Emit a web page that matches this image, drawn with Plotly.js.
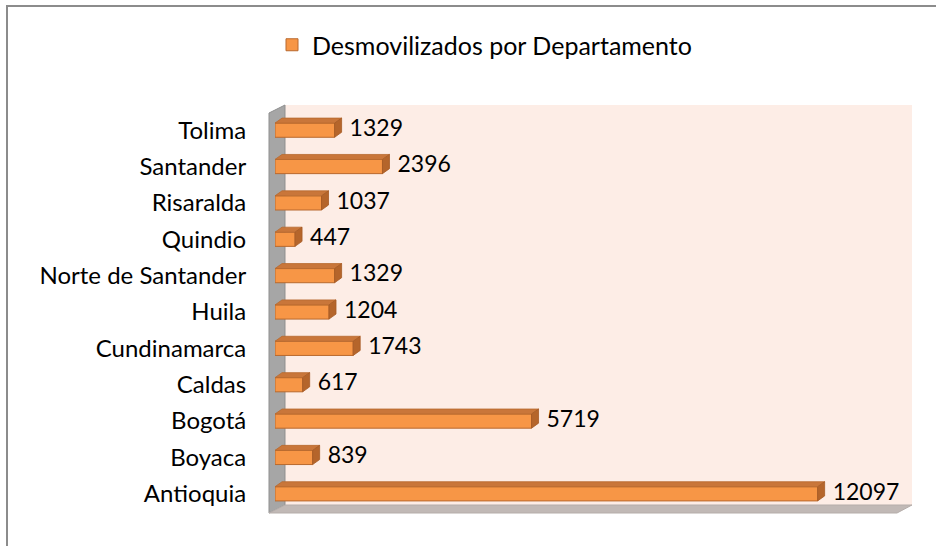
<!DOCTYPE html>
<html>
<head>
<meta charset="utf-8">
<script src="https://cdn.plot.ly/plotly-3.0.1.min.js"></script>
<style>
html,body{margin:0;padding:0;background:#fff;overflow:hidden;}
#wrap{position:relative;width:943px;height:546px;overflow:hidden;}
#chart{position:absolute;left:0;top:0;width:943px;height:546px;}
#frame{position:absolute;left:6px;top:5px;width:928px;height:560px;border-left:2px solid #8C8C8C;border-top:2px solid #8C8C8C;pointer-events:none;}
</style>
</head>
<body>
<div id="wrap"><div id="chart"></div><div id="frame"></div></div>
<script>
const categories = ['Antioquia','Boyaca','Bogotá','Caldas','Cundinamarca','Huila','Norte de Santander','Quindio','Risaralda','Santander','Tolima'];
const values = [12097, 839, 5719, 617, 1743, 1204, 1329, 447, 1037, 2396, 1329];
const seriesName = 'Desmovilizados por Departamento';

const W = 943, H = 546;
const M = {l: 275, r: 40, t: 112, b: 34};
const pw = W - M.l - M.r, ph = H - M.t - M.b;
const XMAX = 14000;
const idx = categories.map((c, i) => i);

const dxu = 7 * XMAX / pw;
const dyu = 5 * 11 / ph;
const hw = 0.195;
const topX = [], topY = [], rightX = [], rightY = [];
values.forEach((v, i) => {
  topX.push(0, v, v + dxu, dxu, 0, null);
  topY.push(i + hw, i + hw, i + hw + dyu, i + hw + dyu, i + hw, null);
  rightX.push(v, v, v + dxu, v + dxu, v, null);
  rightY.push(i - hw, i + hw, i + hw + dyu, i - hw + dyu, i - hw, null);
});

function px(x) { return (x - M.l) / pw; }
function py(y) { return 1 - (y - M.t) / ph; }
function pts2path(pts, close) {
  return 'M ' + pts.map(p => px(p[0]).toFixed(5) + ',' + py(p[1]).toFixed(5)).join(' L ') + (close ? ' Z' : '');
}
function rect(x0, y0, x1, y1, fill, lc, lw) {
  return {type: 'rect', layer: 'below', xref: 'paper', yref: 'paper',
          x0: px(x0), x1: px(x1), y0: py(y1), y1: py(y0),
          fillcolor: fill, line: {color: lc, width: lw}};
}

const font = 'Lato, "Open Sans", sans-serif';

const traces = [
  {
    type: 'bar', orientation: 'h', name: seriesName,
    x: values, y: idx, width: 2 * hw,
    marker: {color: '#F79646', line: {color: '#B8692E', width: 1}},
    hoverinfo: 'skip', showlegend: true
  },
  {
    type: 'scatter', mode: 'lines', x: topX, y: topY, fill: 'toself',
    fillcolor: '#C9763A', line: {color: '#B8692E', width: 0.8},
    hoverinfo: 'skip', showlegend: false
  },
  {
    type: 'scatter', mode: 'lines', x: rightX, y: rightY, fill: 'toself',
    fillcolor: '#B5652B', line: {color: '#A65B25', width: 0.8},
    hoverinfo: 'skip', showlegend: false
  },
  {
    type: 'scatter', mode: 'text', x: values.map(v => v + 15 * XMAX / pw), y: idx,
    text: values.map(v => String(v)), textposition: 'middle right',
    textfont: {family: font, size: 23, color: '#000'},
    cliponaxis: false, hoverinfo: 'skip', showlegend: false
  }
];

const shapes = [
  rect(285, 105, 912, 505, '#FDEDE6', 'rgba(0,0,0,0)', 0),
  {type: 'path', layer: 'below', xref: 'paper', yref: 'paper',
   path: pts2path([[269,113],[285,105],[285,505],[269,513]], true),
   fillcolor: '#A6A6A6', line: {color: '#8F8F8F', width: 1}},
  {type: 'path', layer: 'below', xref: 'paper', yref: 'paper',
   path: pts2path([[269,513],[285,505],[912,505],[897,513]], true),
   fillcolor: '#C1B9B6', line: {color: '#B5ADAA', width: 1}}
];

const layout = {
  width: W, height: H,
  margin: M,
  paper_bgcolor: '#FFFFFF', plot_bgcolor: 'rgba(0,0,0,0)',
  font: {family: font, size: 24, color: '#000'},
  showlegend: true,
  legend: {orientation: 'h', x: px(272), xanchor: 'left', y: py(45), yanchor: 'middle',
           font: {family: font, size: 25, color: '#000'}, bgcolor: 'rgba(0,0,0,0)'},
  xaxis: {range: [0, XMAX], visible: false, fixedrange: true},
  yaxis: {range: [-0.5, 10.5], tickvals: idx, ticktext: categories,
          showgrid: false, zeroline: false, showline: false,
          ticks: 'outside', ticklen: 23, tickcolor: 'rgba(0,0,0,0)',
          tickfont: {family: font, size: 24, color: '#000'}, fixedrange: true},
  shapes: shapes,
  hovermode: false
};

Plotly.newPlot('chart', traces, layout, {displayModeBar: false, staticPlot: true});
</script>
</body>
</html>
